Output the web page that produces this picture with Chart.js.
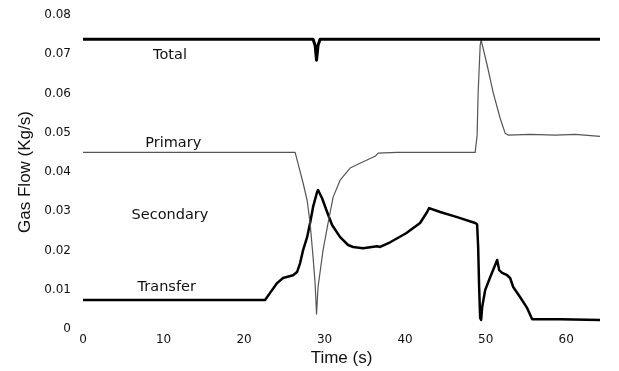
<!DOCTYPE html>
<html>
<head>
<meta charset="utf-8">
<script src="https://cdn.jsdelivr.net/npm/chart.js@4/dist/chart.umd.min.js"></script>
<style>
  html, body { margin: 0; padding: 0; background: #fff; }
  #wrap { width: 619px; height: 371px; }
</style>
</head>
<body>
<div id="wrap"><canvas id="flow-chart"></canvas></div>
<script>
// time axis (s) and flows (kg/s)
var totalT = [0, 28.57, 28.82, 29.0, 29.19, 29.44, 64.2];
var totalV = [0.0738, 0.0738, 0.0723, 0.0685, 0.0723, 0.0738, 0.0738];

var primaryT = [0, 26.34, 26.83, 27.33, 27.83, 28.2, 28.57, 28.82, 29.0, 29.19, 29.81, 30.43, 31.06, 31.93,
  33.17, 34.66, 36.27, 36.65, 39.0, 48.7, 48.94, 49.07, 49.32, 49.44, 50.19, 50.93, 51.8, 52.42, 52.8,
  55.53, 58.63, 61.12, 64.2];
var primaryV = [0.045, 0.045, 0.0412, 0.0372, 0.0328, 0.027, 0.0183, 0.0117, 0.0038, 0.0107, 0.0201, 0.027,
  0.0336, 0.0379, 0.041, 0.0425, 0.044, 0.0448, 0.045, 0.045, 0.0494, 0.0603, 0.0723, 0.0736, 0.0672,
  0.0603, 0.0537, 0.0499, 0.0494, 0.0496, 0.0494, 0.0496, 0.0491];

var transferT = [0, 22.61, 23.23, 24.1, 24.84, 26.09, 26.58, 26.96, 27.33, 27.83, 28.2, 28.57, 29.07, 29.19,
  29.69, 30.31, 30.93, 31.93, 32.92, 33.54, 34.78, 36.52, 36.89, 38.14, 40.12, 41.86, 42.73, 42.98, 44.35,
  46.46, 48.7, 48.94, 49.07, 49.19, 49.32, 49.44, 49.57, 49.94, 50.56, 51.18, 51.43, 51.68, 52.05, 52.67,
  53.04, 53.42, 54.29, 55.16, 55.78, 59.25, 64.2];
var transferV = [0.0074, 0.0074, 0.0092, 0.0117, 0.013, 0.0137, 0.0145, 0.0168, 0.0201, 0.0234, 0.027, 0.0311,
  0.0349, 0.0354, 0.0333, 0.0298, 0.0265, 0.0234, 0.0214, 0.0209, 0.0206, 0.0211, 0.0209, 0.0221, 0.0244,
  0.027, 0.0298, 0.0308, 0.0298, 0.0285, 0.027, 0.0267, 0.0209, 0.0107, 0.0028, 0.0023, 0.0056, 0.0099,
  0.0132, 0.0163, 0.0176, 0.015, 0.0143, 0.0137, 0.013, 0.0107, 0.0081, 0.0053, 0.0025, 0.0025, 0.0023];

// inline curve names
var labelNames = ["Total", "Primary", "Secondary", "Transfer"];
var labelT = [10.8, 11.2, 10.8, 10.4];
var labelV = [0.0697, 0.0473, 0.029, 0.0107];

function pts(t, v) {
  return t.map(function (x, i) { return { x: x, y: v[i] }; });
}

var curveLabels = {
  id: 'curveLabels',
  afterDatasetsDraw: function (chart) {
    var ctx = chart.ctx, xs = chart.scales.x, ys = chart.scales.y;
    ctx.save();
    ctx.font = '14.5px "DejaVu Sans"';
    ctx.fillStyle = '#111';
    ctx.textAlign = 'center';
    ctx.textBaseline = 'middle';
    labelNames.forEach(function (name, i) {
      ctx.fillText(name, xs.getPixelForValue(labelT[i]), ys.getPixelForValue(labelV[i]));
    });
    ctx.restore();
  }
};

new Chart(document.getElementById("flow-chart"), {
  type: 'line',
  data: {
    datasets: [
      { label: "Total", data: pts(totalT, totalV), borderColor: '#000', borderWidth: 3 },
      { label: "Primary", data: pts(primaryT, primaryV), borderColor: '#555', borderWidth: 1.2 },
      { label: "Transfer", data: pts(transferT, transferV), borderColor: '#000', borderWidth: 2.5 }
    ]
  },
  options: {
    responsive: true,
    maintainAspectRatio: false,
    animation: false,
    elements: {
      point: { radius: 0 },
      line: { tension: 0, borderJoinStyle: 'round', borderCapStyle: 'round' }
    },
    layout: { padding: { top: 15, right: 19, left: 0, bottom: 0 } },
    plugins: { legend: { display: false }, tooltip: { enabled: false } },
    scales: {
      x: {
        type: 'linear',
        min: 0,
        max: 64.2,
        grid: { display: false, drawTicks: false, tickLength: 0 },
        border: { display: false },
        ticks: { stepSize: 10, includeBounds: false, padding: 4, color: '#111',
          font: { family: 'DejaVu Sans', size: 12 } },
        title: { display: true, text: 'Time (s)', color: '#111', padding: { top: 0, bottom: 2 },
          font: { family: 'Liberation Sans', size: 17 } },
        afterFit: function (s) { s.height = 42; s.paddingLeft = 0; s.paddingRight = 0; }
      },
      y: {
        min: 0,
        max: 0.08,
        grid: { display: false, drawTicks: false, tickLength: 0 },
        border: { display: false },
        ticks: { stepSize: 0.01, padding: 12, color: '#111',
          font: { family: 'DejaVu Sans', size: 12 } },
        title: { display: true, text: 'Gas Flow (Kg/s)', color: '#111', padding: { top: 15, bottom: 0 },
          font: { family: 'Liberation Sans', size: 17 } },
        afterFit: function (s) { s.width = 83; s.paddingTop = 0; s.paddingBottom = 0; }
      }
    }
  },
  plugins: [curveLabels]
});
</script>
</body>
</html>
